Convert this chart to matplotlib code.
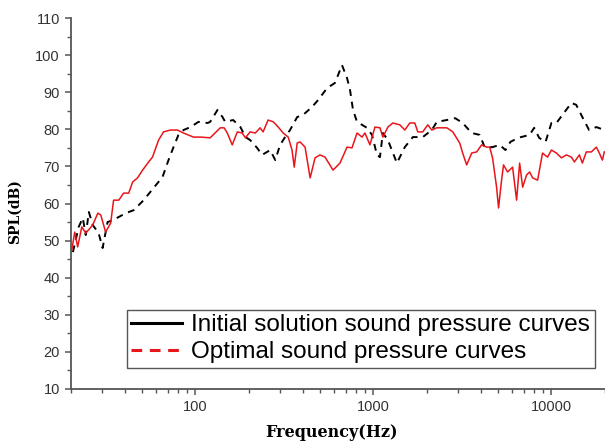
import matplotlib
matplotlib.use("Agg")
import matplotlib.pyplot as plt
from matplotlib.lines import Line2D
from matplotlib.ticker import LogLocator, MultipleLocator, FixedLocator, NullFormatter

# Optimised curve (red, solid in plot)
red_f = [20.2, 21.0, 21.8, 23.0, 24.2, 26.5, 28.3, 29.4, 31.3, 33.4, 34.7, 37.1, 39.5, 42.2,
         44.4, 47.3, 50.5, 54.6, 57.4, 62.1, 66.2, 72.4, 79.3, 85.7, 97.5, 107, 121, 138, 145,
         151, 161, 172, 183, 191, 203, 217, 231, 240, 256, 274, 292, 311, 332, 349, 359, 373,
         387, 413, 441, 470, 501, 535, 593, 649, 711, 758, 809, 863, 896, 956, 1020, 1088,
         1130, 1206, 1286, 1407, 1501, 1601, 1708, 1775, 1893, 2019, 2128, 2270, 2585, 2793,
         3053, 3172, 3342, 3565, 3802, 4055, 4325, 4497, 4670, 4920, 5047, 5247, 5383, 5673,
         6053, 6374, 6628, 6892, 7254, 7543, 7844, 8367, 8913, 9509, 10000, 10670, 11380,
         12140, 12950, 13460, 14360, 14920, 15710, 16760, 17880, 18590, 19330, 19820]
red_db = [47.5, 52.3, 48.3, 53.7, 52.0, 54.2, 57.4, 56.9, 52.3, 54.7, 60.9, 60.9, 62.8, 62.8,
          65.8, 66.9, 69.0, 71.2, 72.5, 77.1, 79.3, 79.8, 79.8, 79.0, 77.9, 77.9, 77.7, 80.4,
          80.4, 79.0, 75.8, 79.3, 79.0, 77.7, 79.3, 79.0, 80.4, 79.3, 82.5, 82.0, 80.6, 79.0,
          77.9, 74.4, 69.8, 76.3, 76.6, 75.2, 66.9, 72.3, 73.1, 72.5, 69.0, 70.9, 75.2, 75.0,
          79.0, 77.9, 79.0, 75.8, 80.6, 80.4, 77.9, 80.6, 81.7, 81.2, 79.8, 81.7, 81.7, 79.3,
          79.3, 81.2, 79.8, 80.4, 80.4, 79.3, 76.3, 73.6, 70.4, 73.6, 73.9, 75.8, 75.2, 75.2,
          72.3, 64.4, 58.8, 66.3, 70.4, 68.5, 69.8, 60.9, 70.9, 64.4, 67.7, 68.5, 66.9, 66.3,
          73.6, 72.5, 74.4, 73.6, 72.3, 73.1, 72.5, 71.2, 73.1, 70.9, 73.9, 73.9, 75.2, 73.6,
          71.7, 73.9]

# Initial curve (black, dashed in plot)
blk_f = [20.5, 22.1, 23.3, 24.2, 25.2, 26.5, 28.6, 30.1, 32.1, 34.7, 40.6, 45.0, 51.2, 58.2,
         65.3, 70.6, 75.3, 80.3, 85.7, 93.8, 104, 117, 121, 133, 142, 147, 163, 179, 191,
         203, 222, 237, 263, 281, 299, 319, 340, 373, 403, 452, 489, 549, 608, 666, 711, 739,
         768, 809, 863, 920, 982, 1047, 1088, 1130, 1206, 1355, 1501, 1665, 1893, 2128, 2270,
         2585, 2880, 3172, 3565, 3953, 4217, 4670, 5120, 5520, 5880, 6500, 7543, 8000, 8530,
         9270, 10000, 10670, 11750, 12950, 13780, 14920, 16280, 17880, 19820]
blk_db = [46.9, 53.7, 56.1, 51.5, 57.7, 54.2, 52.0, 48.0, 55.0, 55.6, 57.4, 58.2, 60.9, 64.2,
          67.1, 71.7, 75.2, 78.5, 79.8, 80.6, 82.0, 81.7, 82.0, 85.2, 83.3, 82.0, 82.5, 80.6,
          77.9, 77.1, 75.0, 73.1, 74.4, 71.7, 75.8, 77.9, 79.8, 83.3, 83.9, 86.0, 87.9, 91.1,
          92.5, 97.3, 93.8, 90.6, 85.2, 82.0, 81.2, 80.4, 78.5, 73.1, 72.5, 79.0, 77.1, 70.9,
          75.2, 77.9, 77.9, 79.8, 82.0, 82.5, 83.0, 81.7, 79.0, 78.5, 75.2, 75.2, 75.8, 74.4,
          76.6, 77.7, 78.5, 80.4, 77.7, 76.6, 81.7, 81.7, 84.4, 87.1, 86.6, 83.3, 79.8, 80.6,
          79.8]

legend_labels = ["Initial solution sound pressure curves", "Optimal sound pressure curves"]
y_ticks = [10, 20, 30, 40, 50, 60, 70, 80, 90, 100, 110]
x_ticks = [100, 1000, 10000]

fig = plt.figure(figsize=(6.05, 4.41), dpi=100)
ax = fig.add_axes([71 / 605, 52 / 441, 1 - 71 / 605, 371 / 441])

ax.plot(blk_f, blk_db, color="black", lw=1.4, dashes=(3.5, 3.0))
ax.plot(red_f, red_db, color="#e8161b", lw=1.1)

ax.set_xscale("log")
ax.set_xlim(20, 20000)
ax.set_ylim(10, 110)

ax.spines["top"].set_visible(False)
ax.spines["right"].set_visible(False)
for s in ("left", "bottom"):
    ax.spines[s].set_color("#555555")
    ax.spines[s].set_linewidth(1.3)

ax.yaxis.set_major_locator(FixedLocator(y_ticks))
ax.yaxis.set_minor_locator(MultipleLocator(5))
ax.xaxis.set_major_locator(FixedLocator(x_ticks))
ax.xaxis.set_minor_locator(LogLocator(base=10, subs=range(2, 10)))
ax.xaxis.set_minor_formatter(NullFormatter())
ax.set_xticklabels([str(v) for v in x_ticks])

ax.tick_params(which="major", length=4.5, width=1.1, color="#555555",
               labelsize=10.5, labelcolor="#333333", direction="out")
ax.tick_params(which="minor", length=3, width=1.0, color="#555555", direction="out")
for lab in ax.get_xticklabels() + ax.get_yticklabels():
    lab.set_fontfamily("Liberation Sans")

ax.set_xlabel("Frequency(Hz)", fontfamily="DejaVu Serif", fontweight="bold", fontsize=11.5)
ax.set_ylabel("SPL(dB)", fontfamily="DejaVu Serif", fontweight="bold", fontsize=10)
ax.xaxis.set_label_coords((331 - 71) / 534, -(424 - 389) / 371)
ax.yaxis.set_label_coords(-(71 - 22) / 534, (389 - 212) / 371)

handles = [Line2D([], [], color="black", lw=2.2),
           Line2D([], [], color="#e8161b", lw=2.2, dashes=(3.5, 2.5))]
leg = ax.legend(handles, legend_labels, loc="upper left",
                bbox_to_anchor=((127 - 71) / 534, (389 - 310) / 371),
                prop={"family": "Liberation Sans", "size": 17.5},
                frameon=True, fancybox=False, shadow=False,
                handlelength=2.1, handletextpad=0.37, borderpad=0.18,
                labelspacing=0.2, borderaxespad=0.0)
leg.get_frame().set_edgecolor("#555555")
leg.get_frame().set_linewidth(1.0)
leg.get_frame().set_alpha(1)

fig.savefig("out.png", dpi=100)
